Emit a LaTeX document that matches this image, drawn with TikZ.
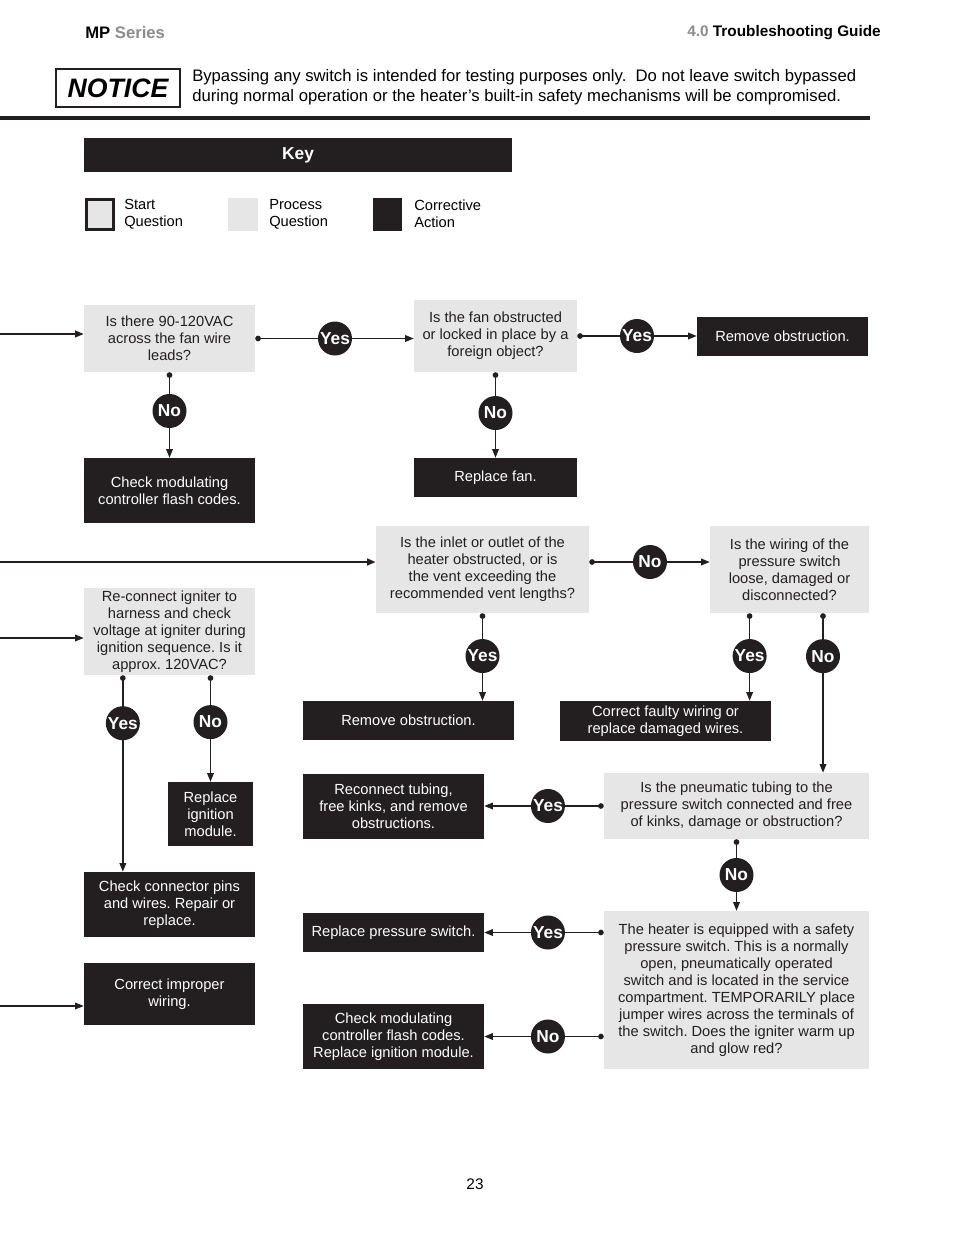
\documentclass[tikz,border=0pt]{standalone}
\usepackage{fontspec}
\setmainfont{Liberation Sans}
\usetikzlibrary{arrows.meta,calc}
\frenchspacing

\definecolor{procgray}{HTML}{E6E6E6}
\definecolor{actblack}{HTML}{231F20}
\definecolor{hdrgray}{HTML}{8C8C8C}

\tikzset{
  box/.style={align=center, inner sep=0pt, font=\fontsize{11}{12.8}\selectfont},
  sz/.style 2 args={minimum width=#1, minimum height=#2},
  question/.style={box, fill=procgray, text=actblack},
  action/.style={box, fill=actblack, text=white},
  answer/.style={circle, fill=actblack, text=white, inner sep=0pt, minimum size=25.5pt,
    font=\fontsize{13}{13}\selectfont\bfseries},
  flow/.style={draw=actblack, line width=1pt, {Circle[length=4.2pt]}-{Triangle[length=6.5pt,width=5pt]}},
  feed/.style={draw=actblack, line width=1.3pt, -{Triangle[length=6.5pt,width=5pt]}},
}

\begin{document}
\begin{tikzpicture}[x=0.75pt, y=-0.75pt]
  \useasboundingbox (0,0) rectangle (954,1235);
  %\draw[gray, dashed] (0,0) grid[step=50] (954,1235);

  % page header
  \node[anchor=west, inner sep=0pt, font=\fontsize{12.5}{13}\selectfont\bfseries] (series) at (85,33) {MP \textcolor{hdrgray}{Series}};
  \node[anchor=east, inner sep=0pt, font=\fontsize{11.5}{12}\selectfont\bfseries] (guide) at (881,33) {\textcolor{hdrgray}{4.0} Troubleshooting Guide};
  \node[draw=actblack, line width=0.9pt, sz={93pt}{28.5pt}, inner sep=0pt,
    font=\fontsize{20}{20}\selectfont\bfseries\itshape] (notice) at (118,88) {NOTICE};
  \node[anchor=west, align=left, inner sep=0pt, font=\fontsize{12.5}{15}\selectfont] (noticetxt) at (192,87)
    {Bypassing any switch is intended for testing purposes only.\ \ Do not leave switch bypassed\\
     during normal operation or the heater’s built-in safety mechanisms will be compromised.};
  \draw[actblack, line width=2.4pt] (0,118) -- (870,118);

  % key
  \node[fill=actblack, text=white, sz={321pt}{25.5pt}, font=\fontsize{13}{13}\selectfont\bfseries] (key) at (298,155) {Key};
  \node[draw=actblack, line width=2.2pt, fill=procgray, sz={20.3pt}{22.6pt}] (keystart) at (100,214.5) {};
  \node[fill=procgray, sz={22.5pt}{24.75pt}] (keyproc) at (243,214.5) {};
  \node[fill=actblack, sz={21.75pt}{24.75pt}] (keyact) at (387.5,214.5) {};
  \node[box, anchor=west, align=left] (keystarttxt) at (124,214) {Start\\Question};
  \node[box, anchor=west, align=left] (keyproctxt) at (269,214) {Process\\Question};
  \node[box, anchor=west, align=left] (keyacttxt) at (414,214) {Corrective\\Action};

  % fan branch
  \node[question, sz={128.25pt}{50.25pt}] (fanvolt) at (169.5,338.5) {Is there 90-120VAC\\across the fan wire\\leads?};
  \node[question, sz={122.25pt}{54pt}] (fanblock) at (495.5,336) {Is the fan obstructed\\or locked in place by a\\foreign object?};
  \node[action, sz={128.25pt}{29.25pt}] (rmfan) at (782.5,336.5) {Remove obstruction.};
  \node[action, sz={128.25pt}{48.75pt}] (checkcodes) at (169.5,490.5) {Check modulating\\controller flash codes.};
  \node[action, sz={122.25pt}{29.25pt}] (replfan) at (495.5,477.5) {Replace fan.};

  \coordinate (infan) at (0,334);
  \draw[feed] (infan) -- (infan -| fanvolt.west);
  \draw[flow] (fanvolt.east) -- (fanvolt.east -| fanblock.west) node[answer, pos=.503] (yfan) {Yes};
  \draw[flow] (fanblock.east) -- (fanblock.east -| rmfan.west) node[answer, pos=.5] (yblock) {Yes};
  \draw[flow] (fanvolt.south) -- (checkcodes.north) node[answer, pos=.453] (nfan) {No};
  \draw[flow] (fanblock.south) -- (replfan.north) node[answer, pos=.477] (nblock) {No};

  % vent / pressure switch branch
  \node[question, sz={159.75pt}{65.25pt}] (vent) at (482.5,569.5) {Is the inlet or outlet of the\\heater obstructed, or is\\the vent exceeding the\\recommended vent lengths?};
  \node[question, sz={119.25pt}{65.25pt}] (wiring) at (789.5,569.5) {Is the wiring of the\\pressure switch\\loose, damaged or\\disconnected?};
  \node[action, sz={158.25pt}{29.25pt}] (rmvent) at (408.5,720.5) {Remove obstruction.};
  \node[action, sz={158.25pt}{30pt}] (fixwiring) at (665.5,721) {Correct faulty wiring or\\replace damaged wires.};
  \node[question, sz={198.75pt}{49.5pt}] (tubing) at (736.5,806) {Is the pneumatic tubing to the\\pressure switch connected and free\\of kinks, damage or obstruction?};
  \node[action, sz={135.75pt}{48.75pt}] (fixtubing) at (393.5,806.5) {Reconnect tubing,\\free kinks, and remove\\obstructions.};
  \node[question, sz={198.75pt}{118.5pt}] (jumper) at (736.5,990) {The heater is equipped with a safety\\pressure switch. This is a normally\\open, pneumatically operated\\switch and is located in the service\\compartment. TEMPORARILY place\\jumper wires across the terminals of\\the switch. Does the igniter warm up\\and glow red?};
  \node[action, sz={135.75pt}{29.25pt}] (replswitch) at (393.5,932.5) {Replace pressure switch.};
  \node[action, sz={135.75pt}{48.75pt}] (checkmodule) at (393.5,1036.5) {Check modulating\\controller flash codes.\\Replace ignition module.};

  \coordinate (invent) at (0,562);
  \coordinate (wireY) at ($(wiring.south west)!0.25!(wiring.south east)$);
  \coordinate (wireN) at ($(wiring.south west)!0.71!(wiring.south east)$);
  \draw[feed, line width=1.8pt] (invent) -- (invent -| vent.west);
  \draw[flow] (vent.east |- invent) -- (wiring.west |- invent) node[answer, pos=.504] (nvent) {No};
  \draw[flow] (vent.south) -- (vent.south |- rmvent.north) node[answer, pos=.489] (yvent) {Yes};
  \draw[flow] (wireY) -- (wireY |- fixwiring.north) node[answer, pos=.489] (ywire) {Yes};
  \draw[flow] (wireN) -- (wireN |- tubing.north) node[answer, pos=.269] (nwire) {No};
  \draw[flow] (tubing.west) -- (tubing.west -| fixtubing.east) node[answer, pos=.467] (ytube) {Yes};
  \draw[flow] (tubing.south) -- (jumper.north) node[answer, pos=.5] (ntube) {No};
  \draw[flow] (jumper.west |- replswitch.east) -- (replswitch.east) node[answer, pos=.467] (yjump) {Yes};
  \draw[flow] (jumper.west |- checkmodule.east) -- (checkmodule.east) node[answer, pos=.467] (njump) {No};

  % igniter branch
  \node[question, sz={128.25pt}{65.25pt}] (igniter) at (169.5,631.5) {Re-connect igniter to\\harness and check\\voltage at igniter during\\ignition sequence. Is it\\approx. 120VAC?};
  \node[action, sz={63.75pt}{48pt}] (replmodule) at (210.5,814) {Replace\\ignition\\module.};
  \node[action, sz={128.25pt}{48.75pt}] (checkpins) at (169.5,904.5) {Check connector pins\\and wires. Repair or\\replace.};
  \node[action, sz={128.25pt}{46.5pt}] (improper) at (169.5,994) {Correct improper\\wiring.};

  \coordinate (inign) at (0,638);
  \coordinate (ignY) at ($(igniter.south west)!0.228!(igniter.south east)$);
  \draw[feed, line width=1pt] (inign) -- (inign -| igniter.west);
  \draw[flow] (ignY) -- (ignY |- checkpins.north) node[answer, pos=.244] (yign) {Yes};
  \draw[flow] (igniter.south -| replmodule.north) -- (replmodule.north) node[answer, pos=.44] (nign) {No};
  \coordinate (inwire) at (0,1006);
  \draw[feed, line width=1pt] (inwire) -- (inwire -| improper.west);

  \node[font=\fontsize{11.5}{12}\selectfont] (pagenum) at (475,1184) {23};
\end{tikzpicture}
\end{document}
